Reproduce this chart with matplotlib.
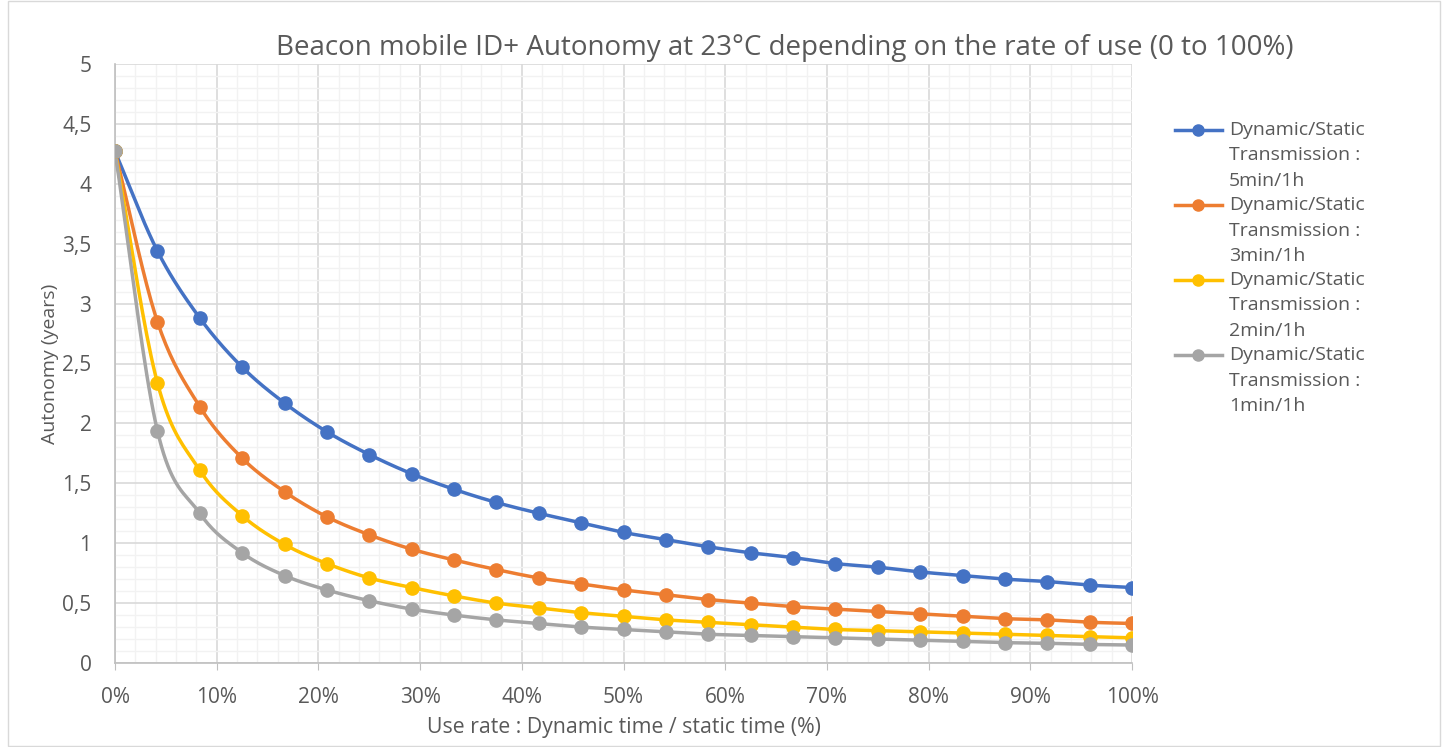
import numpy as np
import matplotlib
matplotlib.use("Agg")
import matplotlib.pyplot as plt
from matplotlib.ticker import MultipleLocator, FuncFormatter
from matplotlib.lines import Line2D
from matplotlib.patches import Rectangle

# Data ############################################
use_rate = [k / 24 for k in range(25)]

tx_5min = [4.27, 3.44, 2.88, 2.47, 2.17, 1.93, 1.74, 1.58, 1.45, 1.34, 1.25, 1.17, 1.09,
           1.03, 0.97, 0.92, 0.88, 0.83, 0.80, 0.76, 0.73, 0.70, 0.68, 0.65, 0.63]
tx_3min = [4.27, 2.85, 2.14, 1.71, 1.43, 1.22, 1.07, 0.95, 0.86, 0.78, 0.71, 0.66, 0.61,
           0.57, 0.53, 0.50, 0.47, 0.45, 0.43, 0.41, 0.39, 0.37, 0.36, 0.34, 0.33]
tx_2min = [4.27, 2.34, 1.61, 1.23, 0.99, 0.83, 0.71, 0.63, 0.56, 0.50, 0.46, 0.42, 0.39,
           0.36, 0.34, 0.32, 0.30, 0.28, 0.27, 0.26, 0.25, 0.24, 0.23, 0.22, 0.21]
tx_1min = [4.27, 1.94, 1.25, 0.92, 0.73, 0.61, 0.52, 0.45, 0.40, 0.36, 0.33, 0.30, 0.28,
           0.26, 0.24, 0.23, 0.22, 0.21, 0.20, 0.19, 0.18, 0.17, 0.165, 0.155, 0.15]

labels = ["5min/1h", "3min/1h", "2min/1h", "1min/1h"]
colors = ["#4472C4", "#ED7D31", "#FFC000", "#A5A5A5"]
values = [tx_5min, tx_3min, tx_2min, tx_1min]
###################################################


def smooth(x, y, n=20):
    # Catmull-Rom curve through the points, like Excel's smoothed line
    x = np.asarray(x, float)
    y = np.asarray(y, float)
    px = np.concatenate([[2 * x[0] - x[1]], x, [2 * x[-1] - x[-2]]])
    py = np.concatenate([[2 * y[0] - y[1]], y, [2 * y[-1] - y[-2]]])
    t = np.linspace(0, 1, n, endpoint=False)
    xs, ys = [], []
    for i in range(1, len(px) - 2):
        for p, out in ((px, xs), (py, ys)):
            p0, p1, p2, p3 = p[i - 1], p[i], p[i + 1], p[i + 2]
            out.extend(0.5 * (2 * p1 + (-p0 + p2) * t + (2 * p0 - 5 * p1 + 4 * p2 - p3) * t ** 2
                              + (-p0 + 3 * p1 - 3 * p2 + p3) * t ** 3))
    xs.append(x[-1])
    ys.append(y[-1])
    return xs, ys


plt.rcParams['font.family'] = ['Open Sans', 'DejaVu Sans']
W, H = 1448, 747
fig = plt.figure(figsize=(W / 100, H / 100), dpi=100)
fig.patches.append(Rectangle((8 / W, 0.002), 1432 / W, 0.996, transform=fig.transFigure,
                             fill=False, edgecolor="#D9D9D9", linewidth=1))
ax = fig.add_axes([115 / W, 1 - 663 / H, (1132 - 115) / W, (663 - 64) / H])

for vals, color in zip(values, colors):
    sx, sy = smooth(use_rate, vals)
    ax.plot(sx, sy, color=color, linewidth=2.5, zorder=3)
    ax.plot(use_rate, vals, linestyle="none", marker="o", markersize=9.5, color=color, zorder=4)

ax.set_xlim(0, 1)
ax.set_ylim(0, 5)
ax.xaxis.set_major_locator(MultipleLocator(0.1))
ax.xaxis.set_minor_locator(MultipleLocator(0.02))
ax.yaxis.set_major_locator(MultipleLocator(0.5))
ax.yaxis.set_minor_locator(MultipleLocator(0.1))
ax.xaxis.set_major_formatter(FuncFormatter(lambda v, p: f"{v * 100:.0f}%"))
ax.yaxis.set_major_formatter(FuncFormatter(lambda v, p: f"{v:g}".replace(".", ",")))
ax.grid(which="major", color="#D9D9D9", linewidth=1.2)
ax.grid(which="minor", color="#F2F2F2", linewidth=1)
ax.set_axisbelow(True)
for s in ["top", "right"]:
    ax.spines[s].set_visible(False)
for s in ["left", "bottom"]:
    ax.spines[s].set_color("#BFBFBF")
    ax.spines[s].set_linewidth(1.2)
ax.tick_params(axis="x", which="major", length=5, color="#BFBFBF", labelsize=15, labelcolor="#595959", pad=12)
ax.tick_params(axis="y", which="major", length=0, labelsize=15, labelcolor="#595959", pad=17)
ax.tick_params(which="minor", length=0)

ax.set_xlabel("Use rate : Dynamic time / static time (%)", fontsize=15.3, color="#595959", labelpad=7)
ax.set_ylabel("Autonomy (years)", fontsize=14, color="#595959", labelpad=2)
fig.text(785 / W, 1 - 48 / H, "Beacon mobile ID+ Autonomy at 23°C depending on the rate of use (0 to 100%)",
         ha="center", va="center", fontsize=20, color="#595959")

# legend, drawn by hand so the marker sits on the first text line
for i, (lab, color) in enumerate(zip(labels, colors)):
    y0 = 130 + i * 75
    fig.add_artist(Line2D([1175 / W, 1222 / W], [1 - y0 / H, 1 - y0 / H], transform=fig.transFigure,
                          color=color, linewidth=2.5))
    fig.add_artist(Line2D([1198 / W], [1 - y0 / H], transform=fig.transFigure,
                          color=color, marker="o", markersize=8))
    for j, line in enumerate(["Dynamic/Static", "Transmission :", lab]):
        fig.text(1229 / W, 1 - (y0 + j * 25.5) / H, line, ha="left", va="center",
                 fontsize=14, color="#595959")

fig.savefig("out.png", dpi=100)
